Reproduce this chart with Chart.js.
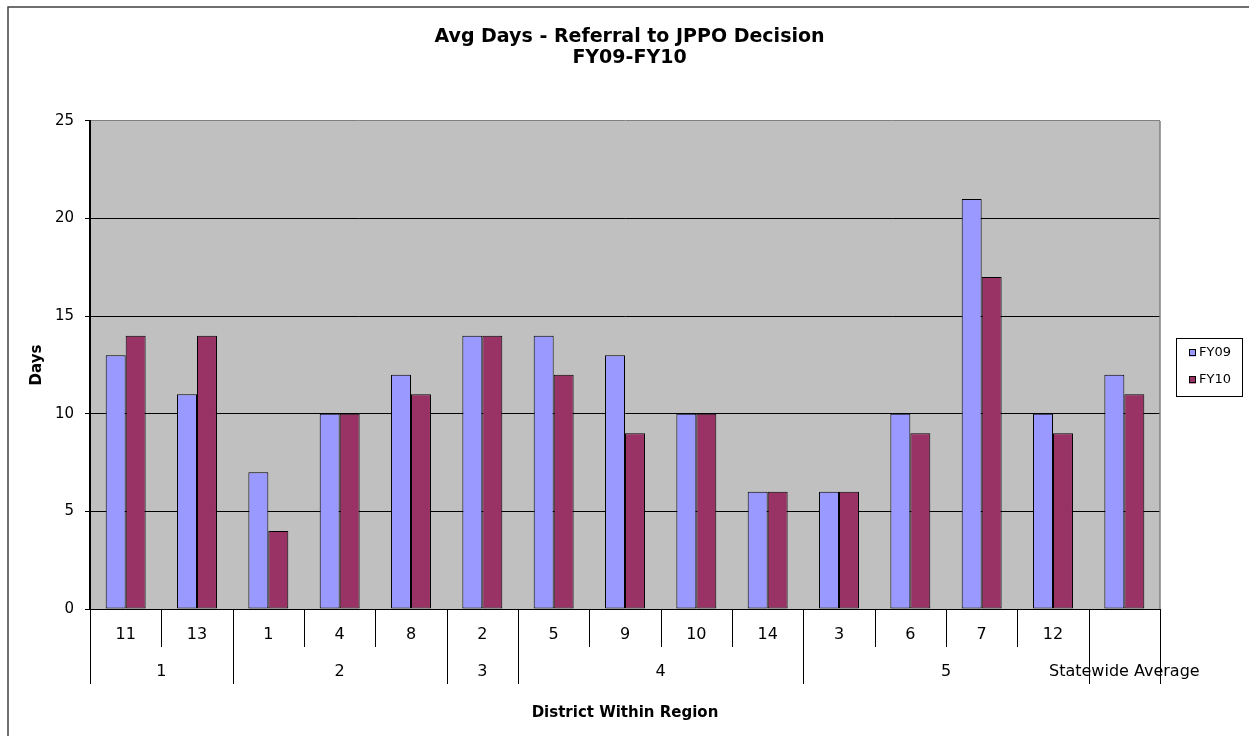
<!DOCTYPE html>
<html>
<head>
<meta charset="utf-8">
<script src="https://cdn.jsdelivr.net/npm/chart.js@4.4.1/dist/chart.umd.min.js"></script>
<style>
  html, body { margin: 0; padding: 0; background: #fff; overflow: hidden; }
  #wrap { width: 1249px; height: 736px; position: relative; }
</style>
</head>
<body>
<div id="wrap"><canvas id="c" width="1249" height="736"></canvas></div>
<script>
// District labels (inner row) and the region each district belongs to (outer row)
const districts = ['11', '13', '1', '4', '8', '2', '5', '9', '10', '14', '3', '6', '7', '12', ''];
const regions = ['1', '1', '2', '2', '2', '3', '4', '4', '4', '4', '5', '5', '5', '5', 'Statewide Average'];

// Average days from referral to JPPO decision
const seriesNames = ['FY09', 'FY10'];
const fy09 = [13, 11, 7, 10, 12, 14, 14, 13, 10, 6, 6, 10, 21, 10, 12];
const fy10 = [14, 14, 4, 10, 11, 14, 12, 9, 10, 6, 6, 9, 17, 9, 11];

const yTicks = [0, 5, 10, 15, 20, 25];

const FONT = 'DejaVu Sans';

// Grey plot background, frame around the whole chart, right edge of the plot
const plotFrame = {
  id: 'plotFrame',
  beforeDraw(chart) {
    const { ctx, chartArea: a } = chart;
    ctx.save();
    ctx.fillStyle = '#C0C0C0';
    ctx.fillRect(a.left, a.top, a.right - a.left, a.bottom - a.top);
    // outer frame
    ctx.strokeStyle = '#404040';
    ctx.lineWidth = 1.5;
    ctx.beginPath();
    ctx.moveTo(8, chart.height + 2);
    ctx.lineTo(8, 7);
    ctx.lineTo(chart.width + 2, 7);
    ctx.stroke();
    ctx.restore();
  },
  beforeDatasetsDraw(chart) {
    const { ctx, chartArea: a } = chart;
    ctx.save();
    ctx.strokeStyle = '#808080';
    ctx.lineWidth = 1.5;
    ctx.beginPath();
    ctx.moveTo(a.right, a.top);
    ctx.lineTo(a.right, a.bottom);
    ctx.stroke();
    ctx.restore();
  }
};

// Two-level category axis: district row above, region row below, with separators
const groupedAxis = {
  id: 'groupedAxis',
  afterDraw(chart) {
    const { ctx } = chart;
    const xs = chart.scales.x;
    const y0 = chart.chartArea.bottom;
    const n = districts.length;
    const edge = i => xs.getPixelForValue(i - 0.5);
    ctx.save();
    ctx.strokeStyle = '#000';
    ctx.lineWidth = 1;
    for (let i = 0; i <= n; i++) {
      const full = i === 0 || i === n || regions[i] !== regions[i - 1];
      const x = Math.round(edge(i)) + 0.5;
      ctx.beginPath();
      ctx.moveTo(x, y0);
      ctx.lineTo(x, y0 + (full ? 75 : 38));
      ctx.stroke();
    }
    ctx.fillStyle = '#000';
    ctx.textAlign = 'center';
    ctx.textBaseline = 'middle';
    ctx.font = '16px "' + FONT + '"';
    districts.forEach((d, i) => {
      if (d) ctx.fillText(d, xs.getPixelForValue(i), y0 + 26);
    });
    let start = 0;
    for (let i = 1; i <= n; i++) {
      if (i === n || regions[i] !== regions[start]) {
        const cx = (edge(start) + edge(i)) / 2;
        ctx.fillText(regions[start], cx, y0 + 63);
        start = i;
      }
    }
    ctx.restore();
  }
};

// Boxed legend to the right of the plot
const boxedLegend = {
  id: 'boxedLegend',
  afterDraw(chart) {
    const { ctx } = chart;
    const left = 1176, top = 338, w = 66, h = 58;
    ctx.save();
    ctx.strokeStyle = '#000';
    ctx.lineWidth = 1;
    ctx.strokeRect(left + 0.5, top + 0.5, w, h);
    ctx.font = '13px "' + FONT + '"';
    ctx.textBaseline = 'middle';
    ctx.textAlign = 'left';
    chart.data.datasets.forEach((ds, i) => {
      const cy = top + 15 + i * 27;
      ctx.fillStyle = ds.backgroundColor;
      ctx.fillRect(left + 13, cy - 3.5, 7, 7);
      ctx.strokeRect(left + 13.5, cy - 3.5, 6, 6);
      ctx.fillStyle = '#000';
      ctx.fillText(ds.label, left + 23, cy);
    });
    ctx.restore();
  }
};

new Chart(document.getElementById('c'), {
  type: 'bar',
  data: {
    labels: districts.map((d, i) => d || regions[i]),
    datasets: [
      { label: seriesNames[0], data: fy09, backgroundColor: '#9999FF', borderColor: '#000', borderWidth: 1, borderSkipped: false },
      { label: seriesNames[1], data: fy10, backgroundColor: '#993366', borderColor: '#000', borderWidth: 1, borderSkipped: false }
    ]
  },
  options: {
    responsive: false,
    animation: false,
    devicePixelRatio: 1,
    layout: { padding: { top: 26, left: 10, right: 0, bottom: 0 } },
    datasets: { bar: { categoryPercentage: 0.56, barPercentage: 1 } },
    plugins: {
      legend: { display: false },
      tooltip: { enabled: false },
      title: {
        display: true,
        text: ['Avg Days - Referral to JPPO Decision', 'FY09-FY10'],
        color: '#000',
        font: { family: FONT, size: 19, weight: 'bold', lineHeight: 1.13 },
        padding: { top: 0, bottom: 52 }
      }
    },
    scales: {
      x: {
        ticks: { display: false },
        grid: { display: false, drawTicks: false },
        border: { display: true, color: '#000', width: 1 },
        title: {
          display: true,
          text: 'District Within Region',
          color: '#000',
          font: { family: FONT, size: 15, weight: 'bold' },
          padding: { top: 0, bottom: 14 }
        },
        afterFit(s) { s.height = 127; }
      },
      y: {
        min: 0,
        max: 25,
        afterBuildTicks(s) { s.ticks = yTicks.map(v => ({ value: v })); },
        ticks: { color: '#000', padding: 11, font: { family: FONT, size: 15 } },
        grid: {
          color: c => (c.tick && c.tick.value === 25 ? '#808080' : '#000'),
          tickColor: '#000',
          tickLength: 5,
          lineWidth: 1
        },
        border: { color: '#000', width: 2 },
        title: {
          display: true,
          text: 'Days',
          color: '#000',
          font: { family: FONT, size: 15, weight: 'bold' },
          padding: { top: 18 }
        },
        afterFit(s) { s.width = 80; }
      },
      side: {
        position: 'right',
        display: true,
        ticks: { display: false },
        grid: { display: false, drawTicks: false },
        border: { display: false },
        afterFit(s) { s.width = 89; }
      }
    }
  },
  plugins: [plotFrame, groupedAxis, boxedLegend]
});
</script>
</body>
</html>
